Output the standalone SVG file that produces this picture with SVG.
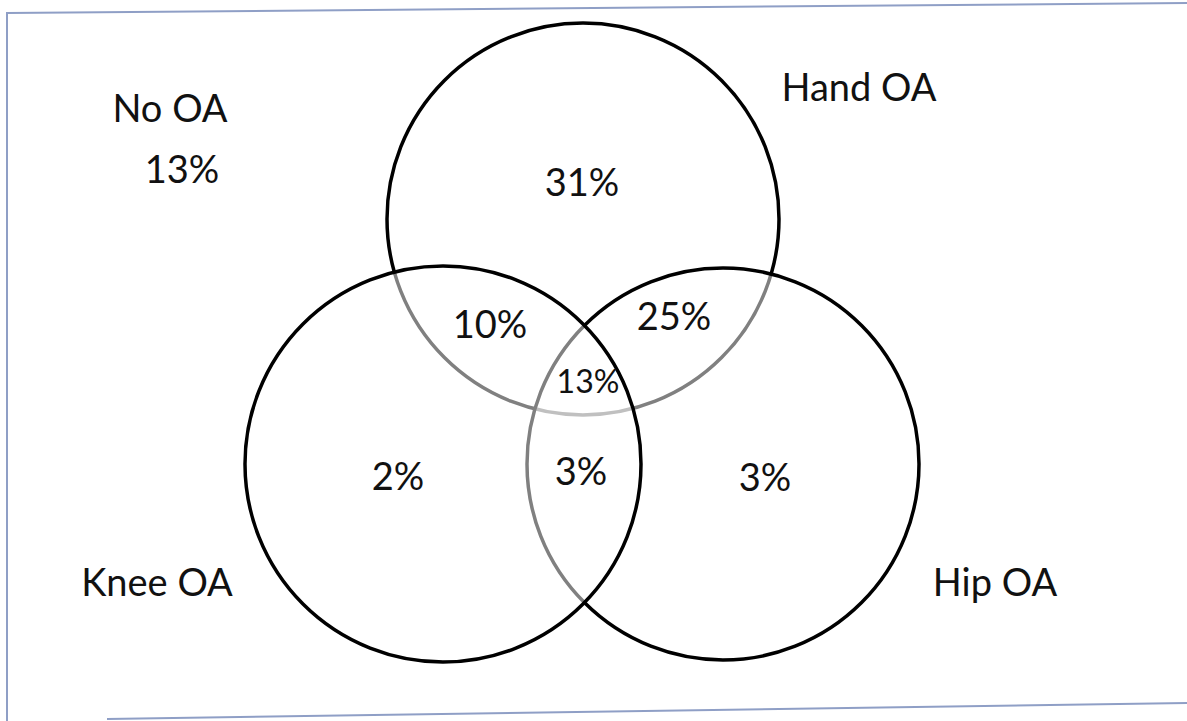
<svg xmlns="http://www.w3.org/2000/svg" width="1187" height="721" viewBox="0 0 1187 721">
<style>
.frame{stroke:#8f9fc6;stroke-width:2;fill:none}
.set{fill:#ffffff;fill-opacity:0.5;stroke:#000;stroke-width:3.5}
.lbl{font-family:Lato,"Liberation Sans",sans-serif;font-size:38px;fill:#111;text-anchor:middle}
.sm{font-size:32px}
</style>
<rect width="1187" height="721" fill="#fff"/>
<g id="frame">
<line class="frame" x1="7" y1="13" x2="1187" y2="3"/>
<line class="frame" x1="7" y1="12" x2="7" y2="721"/>
<line class="frame" x1="107" y1="719" x2="1187" y2="703"/>
</g>
<g id="connectors"></g>
<g id="hand"><circle class="set" cx="583" cy="219" r="196"/></g>
<g id="hip"><circle class="set" cx="723" cy="464" r="196"/></g>
<g id="knee"><circle class="set" cx="443" cy="464" r="198"/></g>
<g id="labels">
<text class="lbl" x="170" y="122">No OA</text>
<text class="lbl" x="182" y="183">13%</text>
<text class="lbl" x="859" y="101">Hand OA</text>
<text class="lbl" x="582" y="196">31%</text>
<text class="lbl" x="490" y="338">10%</text>
<text class="lbl" x="674" y="330">25%</text>
<text class="lbl sm" x="588" y="393">13%</text>
<text class="lbl" x="398" y="490">2%</text>
<text class="lbl" x="581" y="485">3%</text>
<text class="lbl" x="765" y="491">3%</text>
<text class="lbl" x="157" y="596">Knee OA</text>
<text class="lbl" x="995" y="596">Hip OA</text>
</g>
</svg>
